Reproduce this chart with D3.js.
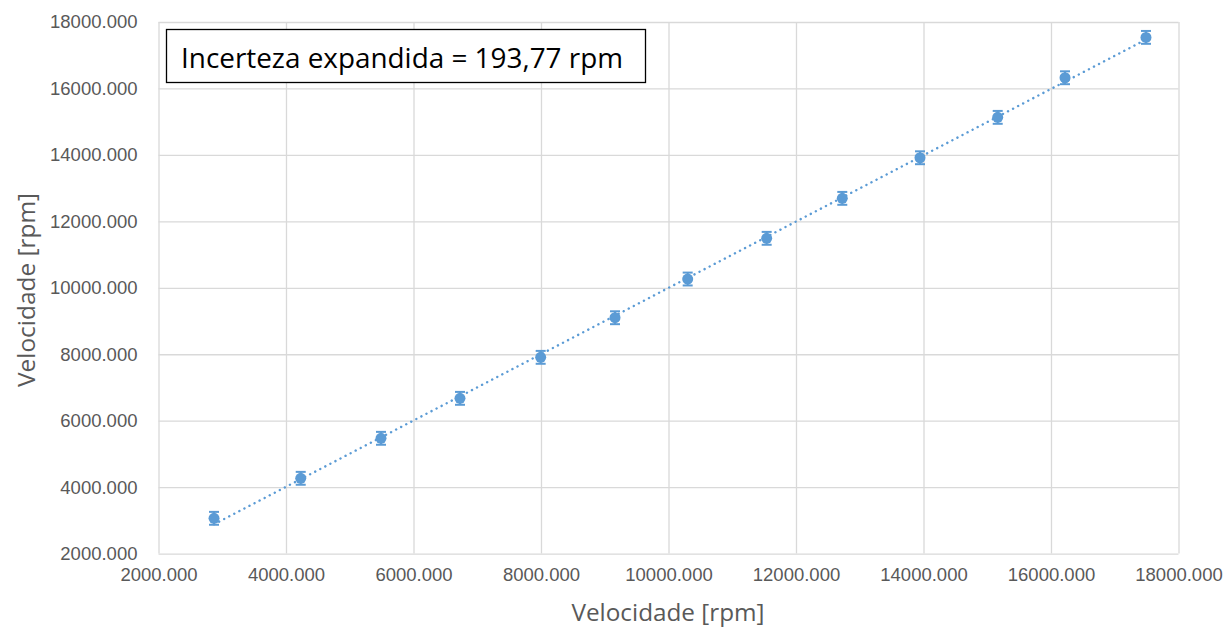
<!DOCTYPE html>
<html>
<head>
<meta charset="utf-8">
<script src="https://cdn.jsdelivr.net/npm/d3@7"></script>
<style>
  html, body { margin: 0; padding: 0; background: #ffffff; }
  svg { display: block; }
</style>
</head>
<body>
<svg id="chart" width="1227" height="630"></svg>
<script>
// Reference speed vs. measured speed, both in rpm
const refSpeed = [2871, 4231, 5490, 6729, 7995, 9161, 10301, 11540, 12726, 13945, 15164, 16220, 17490];
const measSpeed = [3062, 4266, 5470, 6673, 7907, 9099, 10264, 11489, 12692, 13914, 15130, 16322, 17537];
const expandedUncertainty = 193.77;
const xTicks = [2000, 4000, 6000, 8000, 10000, 12000, 14000, 16000, 18000];
const yTicks = [2000, 4000, 6000, 8000, 10000, 12000, 14000, 16000, 18000];
const axisTitle = "Velocidade [rpm]";
const boxText = "Incerteza expandida = 193,77 rpm";

const svg = d3.select("#chart");
const plot = { left: 158.5, right: 1178.5, top: 22, bottom: 553.6 };

const x = d3.scaleLinear().domain([2000, 18000]).range([plot.left, plot.right]);
const y = d3.scaleLinear().domain([2000, 18000]).range([plot.bottom, plot.top]);
const fmt = d3.format(".3f");

const gridColor = "#d9d9d9";
const textColor = "#595959";
const markColor = "#5b9bd5";

// Gridlines
svg.append("g")
  .attr("transform", `translate(0,${plot.bottom})`)
  .call(d3.axisBottom(x).tickValues(xTicks).tickSize(-(plot.bottom - plot.top)).tickFormat(""))
  .call(g => g.select(".domain").remove())
  .call(g => g.selectAll("line").attr("stroke", gridColor).attr("stroke-width", 1.3));

svg.append("g")
  .attr("transform", `translate(${plot.left},0)`)
  .call(d3.axisLeft(y).tickValues(yTicks).tickSize(-(plot.right - plot.left)).tickFormat(""))
  .call(g => g.select(".domain").remove())
  .call(g => g.selectAll("line").attr("stroke", gridColor).attr("stroke-width", 1.3));

// Tick labels
const xAxis = svg.append("g")
  .attr("transform", `translate(0,${plot.bottom})`)
  .call(d3.axisBottom(x).tickValues(xTicks).tickSize(0).tickPadding(14).tickFormat(fmt));
xAxis.select(".domain").remove();
xAxis.selectAll("text")
  .attr("fill", textColor)
  .attr("font-family", "Liberation Sans, Arial, sans-serif")
  .attr("font-size", 18.5);

const yAxis = svg.append("g")
  .attr("transform", `translate(${plot.left},0)`)
  .call(d3.axisLeft(y).tickValues(yTicks).tickSize(0).tickPadding(21).tickFormat(fmt));
yAxis.select(".domain").remove();
yAxis.selectAll("text")
  .attr("fill", textColor)
  .attr("font-family", "Liberation Sans, Arial, sans-serif")
  .attr("font-size", 18.5);

// Axis titles
svg.append("text")
  .attr("x", 668)
  .attr("y", 621)
  .attr("text-anchor", "middle")
  .attr("fill", textColor)
  .attr("font-family", "Open Sans, sans-serif")
  .attr("font-size", 24)
  .attr("textLength", 193)
  .attr("lengthAdjust", "spacingAndGlyphs")
  .text(axisTitle);

svg.append("text")
  .attr("transform", `translate(35,290) rotate(-90)`)
  .attr("text-anchor", "middle")
  .attr("fill", textColor)
  .attr("font-family", "Open Sans, sans-serif")
  .attr("font-size", 24)
  .attr("textLength", 194)
  .attr("lengthAdjust", "spacingAndGlyphs")
  .text(axisTitle);

// Linear trendline (least squares) over the data range
const n = refSpeed.length;
const mx = d3.mean(refSpeed), my = d3.mean(measSpeed);
let sxy = 0, sxx = 0;
for (let i = 0; i < n; i++) {
  sxy += (refSpeed[i] - mx) * (measSpeed[i] - my);
  sxx += (refSpeed[i] - mx) ** 2;
}
const slope = sxy / sxx;
const intercept = my - slope * mx;
const xMin = d3.min(refSpeed), xMax = d3.max(refSpeed);

svg.append("line")
  .attr("x1", x(xMin)).attr("y1", y(slope * xMin + intercept))
  .attr("x2", x(xMax)).attr("y2", y(slope * xMax + intercept))
  .attr("stroke", markColor)
  .attr("stroke-width", 2.4)
  .attr("stroke-linecap", "round")
  .attr("stroke-dasharray", "0.1,5.6");

// Error bars
const pts = refSpeed.map((v, i) => ({ x: v, y: measSpeed[i] }));
const eb = svg.append("g").attr("stroke", markColor).attr("stroke-width", 2);
pts.forEach(p => {
  const cx = x(p.x), y0 = y(p.y - expandedUncertainty), y1 = y(p.y + expandedUncertainty);
  eb.append("line").attr("x1", cx).attr("x2", cx).attr("y1", y0).attr("y2", y1);
  eb.append("line").attr("x1", cx - 5).attr("x2", cx + 5).attr("y1", y0).attr("y2", y0);
  eb.append("line").attr("x1", cx - 5).attr("x2", cx + 5).attr("y1", y1).attr("y2", y1);
});

// Markers
svg.append("g").selectAll("circle")
  .data(pts)
  .join("circle")
  .attr("cx", d => x(d.x))
  .attr("cy", d => y(d.y))
  .attr("r", 5.5)
  .attr("fill", markColor);

// Annotation box
svg.append("rect")
  .attr("x", 166.5).attr("y", 29.5)
  .attr("width", 479).attr("height", 53)
  .attr("fill", "#ffffff")
  .attr("stroke", "#000000")
  .attr("stroke-width", 1.3);

svg.append("text")
  .attr("x", 181)
  .attr("y", 68)
  .attr("fill", "#000000")
  .attr("font-family", "Open Sans, sans-serif")
  .attr("font-size", 28)
  .attr("textLength", 442)
  .attr("lengthAdjust", "spacingAndGlyphs")
  .text(boxText);
</script>
</body>
</html>
